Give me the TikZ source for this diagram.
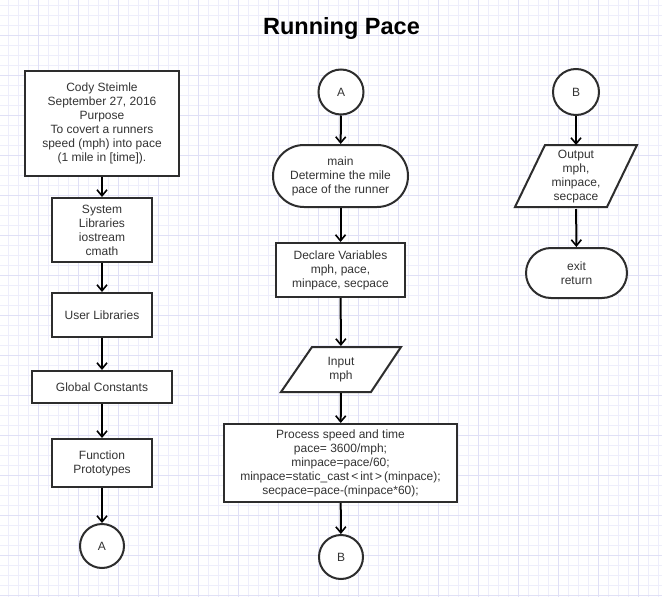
\documentclass[tikz,border=0pt]{standalone}
\usepackage{fontspec}
\setmainfont{Liberation Sans}
\usetikzlibrary{arrows.meta}
\definecolor{gridmin}{RGB}{238,238,251}
\definecolor{gridmaj}{RGB}{224,224,246}
\definecolor{edgec}{RGB}{45,45,45}
\definecolor{txtc}{RGB}{51,51,51}
\begin{document}
\begin{tikzpicture}[x=1pt,y=-1pt,
  base/.style={draw=edgec,line width=2pt,fill=white,text=txtc,align=center,
    font=\fontsize{12}{14}\selectfont,inner sep=0pt},
  procbox/.style={base,rectangle},
  conn/.style={base,circle},
  term/.style={base,rectangle,rounded corners=#1},
  iobox/.style={rectangle,text=txtc,align=center,font=\fontsize{12}{14}\selectfont,inner sep=0pt,outer sep=1pt},
  ioshape/.style={draw=edgec,line width=2pt,fill=white,line join=miter},
  arr/.style={line width=2pt,black,-{Straight Barb[length=6pt,width=10pt,line width=1.6pt]}},
  gminor/.style={gridmin,line width=1pt},
  gmajor/.style={gridmaj,line width=1pt}]
\useasboundingbox (0,0) rectangle (662,597);
\fill[white] (0,0) rectangle (662,597);
% grid
\foreach \gx in {8,18,...,658} {\draw[gminor] (\gx,0) -- (\gx,597);}
\foreach \gy in {5,15,...,595} {\draw[gminor] (0,\gy) -- (662,\gy);}
\foreach \gx in {38,78,...,658} {\draw[gmajor] (\gx,0) -- (\gx,597);}
\foreach \gy in {35,75,...,595} {\draw[gmajor] (0,\gy) -- (662,\gy);}
% title
\node[font=\fontsize{23.5}{28}\selectfont\bfseries,text=black,inner sep=0pt] (title) at (341.5,28.5) {Running Pace};
% left column
\node[procbox,minimum width=154,minimum height=105] (b1) at (102,123.5)
  {Cody Steimle\\September 27, 2016\\Purpose\\To covert a runners\\speed (mph) into pace\\(1 mile in [time]).};
\node[procbox,minimum width=100,minimum height=64] (b2) at (102,230) {System\\Libraries\\iostream\\cmath};
\node[procbox,minimum width=100,minimum height=44] (b3) at (102,315) {User Libraries};
\node[procbox,minimum width=140,minimum height=32] (b4) at (102,387) {Global Constants};
\node[procbox,minimum width=100,minimum height=48] (b5) at (102,463) {Function\\Prototypes};
\node[conn,minimum size=44] (ca1) at (102,546) {A};
\draw[arr] (b1) -- (b2);
\draw[arr] (b2) -- (b3);
\draw[arr] (b3) -- (b4);
\draw[arr] (b4) -- (b5);
\draw[arr] (b5) -- (ca1);
% middle column
\node[conn,minimum size=45] (ca2) at (341,92) {A};
\node[term=31pt,minimum width=135,minimum height=62] (mainn) at (340.5,176) {main\\Determine the mile\\pace of the runner};
\node[procbox,minimum width=129,minimum height=54] (decl) at (340.5,270) {Declare Variables\\mph, pace,\\minpace, secpace};
\fill[ioshape] (312,347) -- (401,347) -- (371,392) -- (281,392) -- cycle;
\node[iobox,minimum width=89,minimum height=45] (inp) at (341,369.5) {Input\\mph};
\node[procbox,minimum width=233,minimum height=78] (proc) at (340.5,463)
  {Process speed and time\\pace= 3600/mph;\\minpace=pace/60;\\minpace=static\_cast\,<\,int\,>\,(minpace);\\secpace=pace-(minpace*60);};
\node[conn,minimum size=44] (cb1) at (341,557) {B};
\draw[arr] (ca2) -- (mainn);
\draw[arr] (mainn) -- (decl);
\draw[arr] (decl) -- (inp);
\draw[arr] (inp) -- (proc);
\draw[arr] (proc) -- (cb1);
% right column
\node[conn,minimum size=46] (cb2) at (576,92) {B};
\fill[ioshape] (545,145) -- (637,145) -- (607,207) -- (515,207) -- cycle;
\node[iobox,minimum width=92,minimum height=62] (outp) at (576,177) {Output\\mph,\\minpace,\\secpace};
\node[term=25pt,minimum width=101,minimum height=50] (exitn) at (576.5,273) {exit\\return};
\draw[arr] (cb2) -- (outp);
\draw[arr] (outp) -- (exitn);
\end{tikzpicture}
\end{document}
